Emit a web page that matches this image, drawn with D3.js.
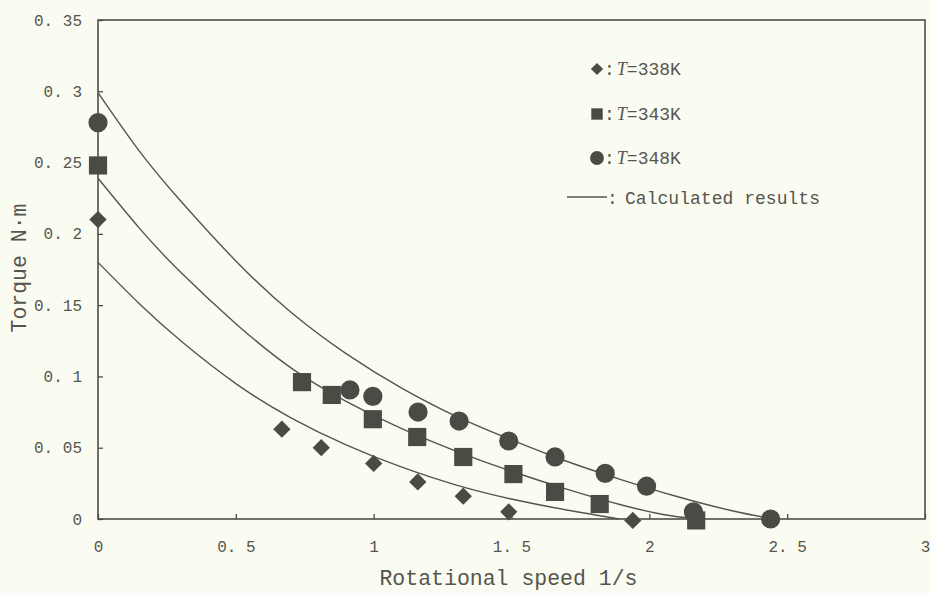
<!DOCTYPE html>
<html>
<head>
<meta charset="utf-8">
<script src="https://cdn.jsdelivr.net/npm/d3@7"></script>
<style>
  body { margin: 0; background: #fbfcf1; }
  svg { display: block; }
  .axis text { font-family: "Liberation Mono", monospace; font-size: 16px; fill: #55554f; }
  .axis line { stroke: #4e4e48; stroke-width: 1.3; }
</style>
</head>
<body>
<svg class="chart"></svg>
<script>
// measured torque (x: rotational speed 1/s, y: torque N·m)
let measured338 = [[0, 0.210], [0.667, 0.063], [0.81, 0.050], [1.0, 0.039], [1.16, 0.026], [1.325, 0.016], [1.49, 0.005], [1.94, -0.001]]
let measured343 = [[0, 0.248], [0.74, 0.096], [0.848, 0.087], [0.997, 0.070], [1.158, 0.0575], [1.325, 0.0435], [1.507, 0.0315], [1.658, 0.019], [1.82, 0.0105], [2.17, -0.001]]
let measured348 = [[0, 0.278], [0.914, 0.0905], [0.997, 0.086], [1.161, 0.075], [1.31, 0.0687], [1.49, 0.0547], [1.658, 0.0435], [1.84, 0.032], [1.99, 0.023], [2.16, 0.005], [2.44, 0]]

// calculated results
let calc338 = [[0, 0.180], [0.15, 0.151], [0.3, 0.125], [0.5, 0.095], [0.7, 0.071], [0.9, 0.052], [1.1, 0.0365], [1.3, 0.0238], [1.5, 0.0140], [1.7, 0.0063], [1.89, 0]]
let calc343 = [[0, 0.239], [0.15, 0.204], [0.3, 0.173], [0.5, 0.137], [0.7, 0.106], [0.9, 0.0825], [1.1, 0.0635], [1.3, 0.0475], [1.5, 0.0335], [1.7, 0.021], [1.9, 0.0098], [2.05, 0.0032], [2.17, 0]]
let calc348 = [[0, 0.299], [0.15, 0.258], [0.3, 0.223], [0.5, 0.181], [0.7, 0.145], [0.9, 0.116], [1.1, 0.092], [1.3, 0.072], [1.5, 0.0555], [1.7, 0.0405], [1.9, 0.0275], [2.1, 0.0158], [2.3, 0.0058], [2.45, 0]]

let xTicks = [0, 0.5, 1, 1.5, 2, 2.5, 3]
let xTickLabels = ['0', '0. 5', '1', '1. 5', '2', '2. 5', '3']
let yTicks = [0, 0.05, 0.1, 0.15, 0.2, 0.25, 0.3, 0.35]
let yTickLabels = ['0', '0. 05', '0. 1', '0. 15', '0. 2', '0. 25', '0. 3', '0. 35']

let legendNames = ['338K', '343K', '348K']

let margin = { top: 20, right: 6, bottom: 74, left: 98 }
let width = 931 - margin.left - margin.right
let height = 593 - margin.top - margin.bottom
let ink = '#4b4b45'

let svg = d3.select('.chart')
    .attr('width', 931)
    .attr('height', 593)

let chart = svg.append('g')
    .attr('transform', 'translate(' + margin.left + ',' + margin.top + ')')

let x = d3.scaleLinear().domain([0, 3]).range([0, width])
let y = d3.scaleLinear().domain([0, 0.35]).range([height, 0])

// axes, ticks pointing inward
chart.append('g').attr('class', 'axis x')
    .attr('transform', 'translate(0,' + height + ')')
    .call(d3.axisBottom(x).tickValues(xTicks).tickSizeInner(-5).tickSizeOuter(0).tickPadding(22)
      .tickFormat((d, i) => xTickLabels[i]))
    .call(g => g.select('.domain').remove())

chart.append('g').attr('class', 'axis y')
    .call(d3.axisLeft(y).tickValues(yTicks).tickSizeInner(-5).tickSizeOuter(0).tickPadding(16)
      .tickFormat((d, i) => yTickLabels[i]))
    .call(g => g.select('.domain').remove())

// frame
chart.append('rect')
    .attr('width', width)
    .attr('height', height)
    .attr('fill', 'none')
    .attr('stroke', '#4e4e48')
    .attr('stroke-width', 1.6)

// axis titles
svg.append('text')
    .attr('x', margin.left + width / 2 - 3)
    .attr('y', 585)
    .attr('text-anchor', 'middle')
    .attr('font-family', 'Liberation Mono, monospace')
    .attr('font-size', 21.5)
    .attr('fill', '#55554f')
    .text('Rotational speed 1/s')

svg.append('text')
    .attr('transform', 'translate(26,' + 268 + ') rotate(-90)')
    .attr('text-anchor', 'middle')
    .attr('font-family', 'Liberation Mono, monospace')
    .attr('font-size', 21.5)
    .attr('fill', '#55554f')
    .text('Torque N·m')

// calculated curves
let line = d3.line()
    .x(d => x(d[0]))
    .y(d => y(d[1]))
    .curve(d3.curveNatural)

chart.selectAll('.calc')
    .data([calc338, calc343, calc348])
    .enter()
    .append('path')
    .attr('class', 'calc')
    .attr('d', line)
    .attr('fill', 'none')
    .attr('stroke', '#55554f')
    .attr('stroke-width', 1.4)

// markers
let diamond = d3.symbol().type(d3.symbolSquare).size(150)
let square = d3.symbol().type(d3.symbolSquare).size(330)
let circle = d3.symbol().type(d3.symbolCircle).size(290)

chart.selectAll('.m338')
    .data(measured338)
    .enter()
    .append('path')
    .attr('class', 'm338')
    .attr('d', diamond)
    .attr('transform', d => 'translate(' + x(d[0]) + ',' + y(d[1]) + ') rotate(45)')
    .attr('fill', ink)

chart.selectAll('.m343')
    .data(measured343)
    .enter()
    .append('path')
    .attr('class', 'm343')
    .attr('d', square)
    .attr('transform', d => 'translate(' + x(d[0]) + ',' + y(d[1]) + ')')
    .attr('fill', ink)

chart.selectAll('.m348')
    .data(measured348)
    .enter()
    .append('path')
    .attr('class', 'm348')
    .attr('d', circle)
    .attr('transform', d => 'translate(' + x(d[0]) + ',' + y(d[1]) + ')')
    .attr('fill', ink)

// legend
let legendY = [69, 114, 158]
let legendMarks = [
  d3.symbol().type(d3.symbolSquare).size(75),
  d3.symbol().type(d3.symbolSquare).size(130),
  d3.symbol().type(d3.symbolCircle).size(150)
]

let legend = svg.append('g')
    .attr('font-family', 'Liberation Mono, monospace')
    .attr('font-size', 18)
    .attr('fill', '#55554f')

legendNames.forEach((name, i) => {
  legend.append('path')
      .attr('d', legendMarks[i])
      .attr('transform', 'translate(597,' + legendY[i] + ')' + (i === 0 ? ' rotate(45)' : ''))
      .attr('fill', ink)
  let t = legend.append('text')
      .attr('x', 604)
      .attr('y', legendY[i] + 6)
  t.append('tspan').text(':')
  t.append('tspan').attr('font-style', 'italic').attr('font-family', 'Liberation Serif, serif').attr('dx', 2).text('T')
  t.append('tspan').text('=' + name)
})

legend.append('line')
    .attr('x1', 567).attr('x2', 607)
    .attr('y1', 197).attr('y2', 197)
    .attr('stroke', '#55554f')
    .attr('stroke-width', 1.4)

legend.append('text')
    .attr('x', 607)
    .attr('y', 204)
    .text(':')

legend.append('text')
    .attr('x', 625)
    .attr('y', 204)
    .attr('textLength', 195)
    .text('Calculated results')
</script>
</body>
</html>
